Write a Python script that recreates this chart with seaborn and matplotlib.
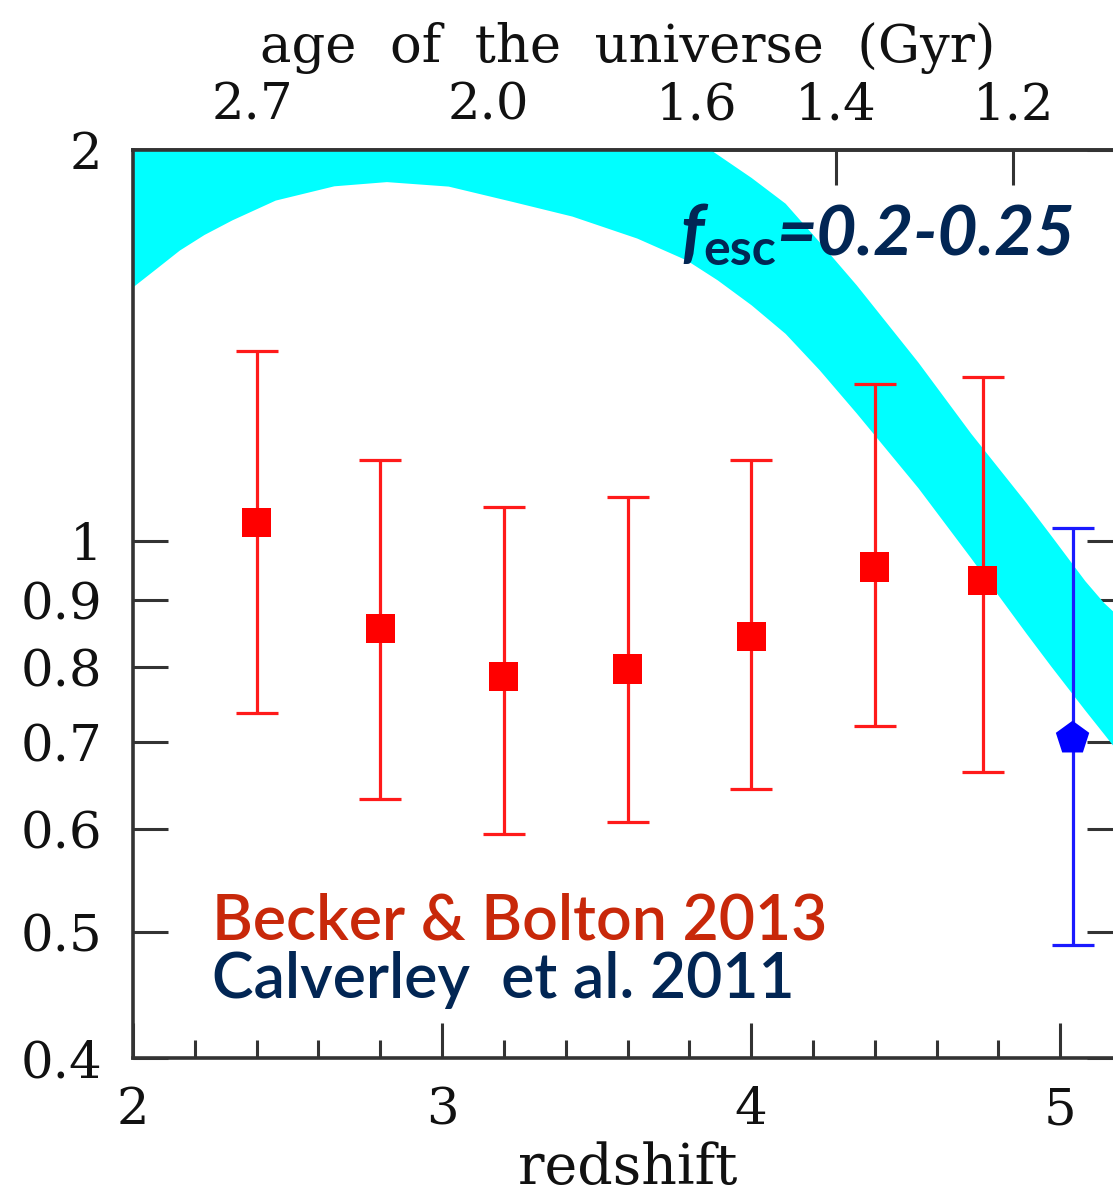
import numpy as np
import pandas as pd
import matplotlib
matplotlib.use("Agg")
import matplotlib.pyplot as plt
from matplotlib.ticker import FixedLocator, NullLocator, MultipleLocator
import seaborn as sns

# Becker & Bolton (2013) measurements
bb_z = [2.4, 2.8, 3.2, 3.6, 4.0, 4.4, 4.75]
bb_val = [1.033, 0.856, 0.786, 0.797, 0.845, 0.955, 0.933]
bb_lo = [0.737, 0.633, 0.595, 0.608, 0.644, 0.720, 0.664]
bb_hi = [1.400, 1.154, 1.062, 1.081, 1.154, 1.321, 1.337]

# Calverley et al. (2011)
cal_z = [5.04]
cal_val = [0.705]
cal_lo = [0.489]
cal_hi = [1.023]

# model band for f_esc = 0.2-0.25
band_z = [2.00, 2.08, 2.15, 2.23, 2.32, 2.46, 2.65, 2.82, 3.02, 3.23, 3.42, 3.63, 3.79,
          3.89, 4.00, 4.11, 4.22, 4.34, 4.54, 4.71, 4.89, 4.97, 5.08, 5.14, 5.20]
band_lo = [1.570, 1.625, 1.675, 1.722, 1.767, 1.830, 1.877, 1.891, 1.876, 1.825, 1.779,
           1.711, 1.646, 1.589, 1.520, 1.445, 1.355, 1.255, 1.099, 0.971, 0.849, 0.801,
           0.741, 0.711, 0.682]
band_hi = [2.60, 2.60, 2.60, 2.60, 2.60, 2.60, 2.55, 2.50, 2.45, 2.38, 2.30, 2.16, 2.06,
           1.985, 1.905, 1.820, 1.700, 1.575, 1.373, 1.211, 1.070, 1.010, 0.932, 0.897,
           0.870]

# axis ticks
y_ticks = [0.4, 0.5, 0.6, 0.7, 0.8, 0.9, 1.0, 2.0]
y_tick_labels = ["0.4", "0.5", "0.6", "0.7", "0.8", "0.9", "1", "2"]
z_ticks = [2, 3, 4, 5]
age_ticks = [2.7, 2.0, 1.6, 1.4, 1.2]
age_tick_labels = ["2.7", "2.0", "1.6", "1.4", "1.2"]

# flat LCDM (H0 = 70, Om = 0.3) for the age axis
H0, OM = 70.0, 0.3
OL = 1.0 - OM
T_H = 977.8 / H0
A_AGE = 2.0 / (3.0 * np.sqrt(OL)) * T_H


def z_to_age(z):
    z = np.asarray(z, dtype=float)
    return A_AGE * np.arcsinh(np.sqrt(OL / OM) * np.clip(1.0 + z, 1e-3, None) ** -1.5)


def age_to_z(t):
    t = np.asarray(t, dtype=float)
    s = np.sinh(np.clip(t, 1e-4, None) / A_AGE)
    return (np.sqrt(OL / OM) / s) ** (2.0 / 3.0) - 1.0


sns.set_style("ticks")
plt.rcParams["font.family"] = ["DejaVu Serif"]

NAVY = "#022654"
RED_TXT = "#C8280A"
AX_COL = "#333333"
TXT_COL = "#111111"

W, H = 1113, 1199
fig = plt.figure(figsize=(W / 100, H / 100), dpi=100)
ax = fig.add_axes([133 / W, 1 - 1058 / H, (1122 - 133) / W, (1058 - 150) / H])
ax.set_zorder(1)

ax.set_yscale("log")
ax.set_xlim(2, 5.2)
ax.set_ylim(0.4, 2.0)

# model band
ax.fill_between(band_z, band_lo, band_hi, color="#00FFFF", lw=0, zorder=1)

# error bars
ax.errorbar(bb_z, bb_val,
            yerr=[np.subtract(bb_val, bb_lo), np.subtract(bb_hi, bb_val)],
            fmt="none", ecolor="#FF1A1A", elinewidth=2.3, capsize=15, capthick=2.3,
            zorder=3)
ax.errorbar(cal_z, cal_val,
            yerr=[np.subtract(cal_val, cal_lo), np.subtract(cal_hi, cal_val)],
            fmt="none", ecolor="#1A1AFF", elinewidth=2.3, capsize=15, capthick=2.3,
            zorder=3)

df_bb = pd.DataFrame({"z": bb_z, "val": bb_val})
df_cal = pd.DataFrame({"z": cal_z, "val": cal_val})
sns.scatterplot(data=df_bb, x="z", y="val", marker="s", s=440, color="#FF0000",
                edgecolor="none", ax=ax, zorder=4, legend=False)
sns.scatterplot(data=df_cal, x="z", y="val", marker="p", s=640, color="#0000FF",
                edgecolor="none", ax=ax, zorder=4, legend=False)

# axis styling
for sp in ax.spines.values():
    sp.set_color(AX_COL)
    sp.set_linewidth(2.6)
    sp.set_visible(True)

ax.yaxis.set_major_locator(FixedLocator(y_ticks))
ax.set_yticklabels(y_tick_labels)
ax.yaxis.set_minor_locator(NullLocator())
ax.yaxis.set_ticks_position("both")
ax.xaxis.set_major_locator(FixedLocator(z_ticks))
ax.set_xticklabels([str(v) for v in z_ticks])
ax.xaxis.set_minor_locator(MultipleLocator(0.2))
ax.xaxis.set_ticks_position("bottom")

ax.tick_params(axis="both", which="major", direction="in", length=25, width=2.2,
               color=AX_COL, labelsize=37, labelcolor=TXT_COL)
ax.tick_params(axis="y", which="major", pad=22, labelright=False)
ax.tick_params(axis="x", which="major", pad=20)
ax.tick_params(axis="x", which="minor", direction="in", length=13, width=2.2,
               color=AX_COL)

ax.set_xlabel("redshift", fontsize=40, color=TXT_COL, labelpad=4)
ax.set_ylabel("")

# age of the universe on top
sec = ax.secondary_xaxis("top", functions=(z_to_age, age_to_z))
sec.set_zorder(0.5)
sec.patch.set_visible(False)
sec.xaxis.set_major_locator(FixedLocator(age_ticks))
sec.xaxis.set_minor_locator(NullLocator())
sec.set_xticklabels(age_tick_labels)
sec.tick_params(axis="x", which="major", direction="in", length=25, width=2.2,
                color=AX_COL, labelsize=37, labelcolor=TXT_COL, pad=14)
sec.spines["top"].set_color(AX_COL)
sec.spines["top"].set_linewidth(2.6)
sec.set_xlabel("age  of  the  universe  (Gyr)", fontsize=38, color=TXT_COL,
               labelpad=14)

# annotations
lato = ["Lato", "DejaVu Sans"]
fig.text(212 / W, 1 - 940 / H, "Becker & Bolton 2013", fontsize=45, family=lato,
         fontweight="semibold", color=RED_TXT, va="baseline", ha="left")
fig.text(212 / W, 1 - 998 / H, "Calverley  et al. 2011", fontsize=45, family=lato,
         fontweight="semibold", color=NAVY, va="baseline", ha="left")

t_f = fig.text(680 / W, 1 - 255 / H, "f", fontsize=51, family=lato,
               fontweight="bold", fontstyle="italic", color=NAVY, va="baseline")
t_sub = ax.annotate("esc", xy=(1, 0), xycoords=t_f, xytext=(0, -4),
                    textcoords="offset points", fontsize=36, family=lato,
                    fontweight="bold", color=NAVY, va="bottom", ha="left",
                    annotation_clip=False)
ax.annotate("=0.2-0.25", xy=(1, 0), xycoords=(t_sub, t_f), xytext=(0, 0),
            textcoords="offset points", fontsize=50, family=lato,
            fontweight="bold", fontstyle="italic", color=NAVY, va="bottom",
            ha="left", annotation_clip=False)

fig.savefig("out.png", dpi=100)
